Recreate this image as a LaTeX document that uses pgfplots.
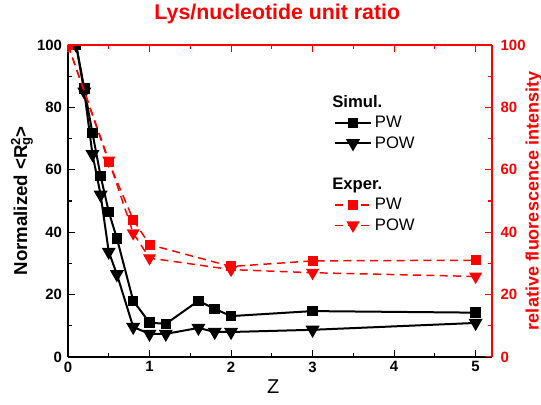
\documentclass[border=0pt]{standalone}
\usepackage{pgfplots}
\pgfplotsset{compat=1.18}
\usepackage{fontspec}
\setmainfont{Liberation Sans}
\definecolor{myred}{RGB}{255,0,0}
\begin{document}
\begin{tikzpicture}
\pgfplotsset{
  common/.style={
    scale only axis, width=318pt, height=234pt,
    xmin=0, xmax=5.2, ymin=0, ymax=100,
    xtick={0,1,2,3,4,5}, minor xtick={0.5,1.5,2.5,3.5,4.5},
    ytick={0,20,40,60,80,100}, minor ytick={10,30,50,70,90},
    tick align=inside, major tick length=5pt, minor tick length=3pt,
    axis line style={line width=1pt},
    ticklabel style={font=\bfseries\fontsize{11.2}{12}\selectfont},
    /pgf/number format/assume math mode=true,
  },
  tri/.style={mark=triangle*, mark size=4.6pt, every mark/.append style={rotate=180, solid}},
  sq/.style={mark=square*, mark size=3.2pt, every mark/.append style={solid}},
}
\begin{axis}[common, name=ax,
  clip marker paths=true,
  axis x line*=bottom, axis y line*=left,
  tick style={black, line width=0.8pt},
  yticklabel style={xshift=-1pt},
  xlabel={Z}, xlabel style={font=\fontsize{15}{16}\selectfont,
    at={(axis description cs:0.5,0)}, anchor=base, yshift=-27.75pt, xshift=-5pt},
  ylabel={\textbf{Normalized <R\rlap{\textsubscript{g}}\textsuperscript{2}>}},
  ylabel style={font=\fontsize{14}{15}\selectfont,
    at={(axis description cs:0,0.5)}, anchor=center, rotate=0, yshift=34.5pt},
  legend style={draw=none, fill=none, at={(0.617,0.855)}, anchor=north west,
    font=\fontsize{12.5}{14}\selectfont, row sep=0.9pt, legend cell align=left},
  legend image code/.code={\draw[mark repeat=2,mark phase=2] plot coordinates {(0cm,0cm)(0.48cm,0cm)(0.96cm,0cm)};},
]
\addlegendimage{empty legend}\addlegendentry{\hspace*{-32pt}\textbf{Simul.}}
\addplot[black, line width=1.5pt, sq] coordinates {
(0.1,100)(0.2,86)(0.3,71.8)(0.4,58)(0.5,46.5)(0.6,38)(0.8,18)(1.0,11)(1.2,10.6)(1.6,18)(1.8,15.4)(2.0,13.1)(3,14.7)(5,14.2)};
\addlegendentry{PW}
\addplot[black, line width=1.5pt, tri] coordinates {
(0.1,100)(0.2,85)(0.3,65)(0.4,52)(0.5,33.7)(0.6,26.5)(0.8,9.6)(1.0,7.4)(1.2,7.4)(1.6,9.3)(1.8,8)(2.0,8)(3,8.7)(5,10.9)};
\addlegendentry{POW}
\addlegendimage{empty legend}\addlegendentry{\rule{0pt}{10pt}}
\addlegendimage{empty legend}\addlegendentry{\hspace*{-32pt}\textbf{Exper.}}
\addplot[myred, line width=1.1pt, dash pattern=on 6pt off 4pt, sq] coordinates {
(0,100)(0.5,62.5)(0.8,44)(1,36)(2,29)(3,30.8)(5,31)};
\addlegendentry{PW}
\addplot[myred, line width=1.1pt, dash pattern=on 6pt off 4pt, tri] coordinates {
(0,100)(0.5,63)(0.8,39.7)(1,31.7)(2,28)(3,27)(5,25.8)};
\addlegendentry{POW}
\end{axis}
\begin{axis}[common,
  axis x line*=top, axis y line*=right,
  axis line style={myred, line width=1pt},
  tick style={myred, line width=0.8pt},
  xticklabels={},
  yticklabel style={text=myred, xshift=3pt},
  ylabel={relative fluorescence intensity},
  ylabel style={font=\bfseries\fontsize{13.5}{14}\selectfont, text=myred,
    at={(axis description cs:1,0.5)}, anchor=center, yshift=-31.5pt},
  title={Lys/nucleotide unit ratio},
  title style={font=\bfseries\fontsize{16}{17}\selectfont, text=myred,
    at={(axis description cs:0.5,1)}, anchor=base, yshift=12.75pt, xshift=-2pt},
]
\end{axis}
\pgfresetboundingbox
\path ([xshift=-51pt,yshift=-36pt]ax.south west) rectangle ([xshift=36.8pt,yshift=33.75pt]ax.north east);
\end{tikzpicture}
\end{document}
